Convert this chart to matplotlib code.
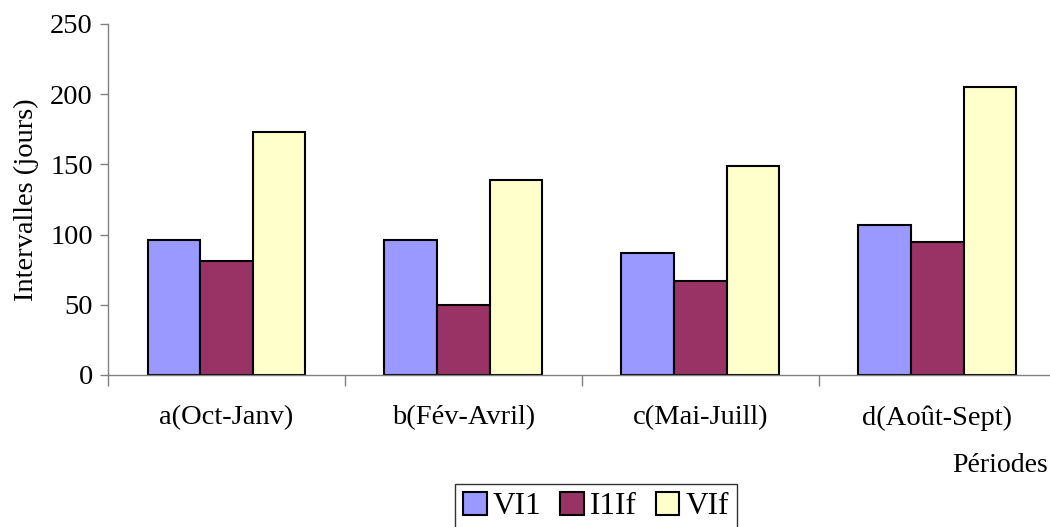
import numpy as np
import matplotlib
matplotlib.use("Agg")
import matplotlib.pyplot as plt

# data
periodes = ["a(Oct-Janv)", "b(Fév-Avril)", "c(Mai-Juill)", "d(Août-Sept)"]
vi1 = [96, 96, 87, 107]
i1if = [81, 50, 67, 95]
vif = [173, 139, 149, 205]
series_names = ["VI1", "I1If", "VIf"]
colors = ["#9999FF", "#993366", "#FFFFCC"]

plt.rcParams["font.family"] = ["Liberation Serif", "DejaVu Serif"]
fs = 20.5

fig = plt.figure(figsize=(10.5, 5.27), dpi=100)
ax = fig.add_axes([108 / 1050, 152 / 527, 948 / 1050, 351 / 527])

x = np.arange(len(periodes))
w = 1 / 4.5
for k, (vals, name, c) in enumerate(zip([vi1, i1if, vif], series_names, colors)):
    ax.bar(x + (k - 1) * w, vals, width=w, color=c, edgecolor="black",
           linewidth=1.5, label=name)

ax.set_xlim(-0.5, len(periodes) - 0.5)
ax.set_ylim(0, 250)
ax.set_yticks(range(0, 251, 50))
ax.tick_params(axis="y", labelsize=fs, length=6, color="#808080", width=1, pad=5)

# category labels between boundary ticks
ax.set_xticks(np.arange(-0.5, len(periodes), 1))
ax.set_xticklabels([])
ax.set_xticks(x, minor=True)
ax.set_xticklabels(periodes, minor=True, fontsize=fs)
ax.tick_params(axis="x", which="major", length=8, color="#808080", width=1)
ax.tick_params(axis="x", which="minor", length=0, pad=22)

for s in ["top", "right"]:
    ax.spines[s].set_visible(False)
for s in ["left", "bottom"]:
    ax.spines[s].set_color("#808080")
    ax.spines[s].set_linewidth(1)

ax.set_ylabel("Intervalles (jours)", fontsize=fs, labelpad=8)
fig.text(1048 / 1050, 1 - 465 / 527, "Périodes", ha="right", va="center", fontsize=fs - 0.5)

leg = fig.legend(loc="upper center", bbox_to_anchor=(596 / 1050, 1 - 484 / 527), ncol=3,
                 fontsize=22.5, frameon=True, fancybox=False, edgecolor="black",
                 handlelength=0.75, handleheight=0.75, handletextpad=0.2,
                 columnspacing=0.6, borderpad=0.25, borderaxespad=0)
leg.get_frame().set_linewidth(1)

fig.savefig("out.png", dpi=100)
